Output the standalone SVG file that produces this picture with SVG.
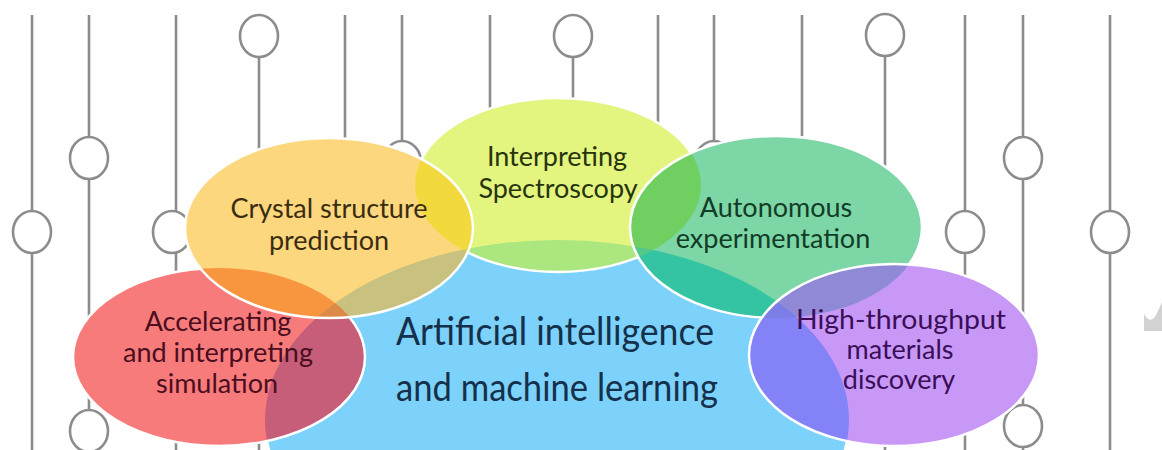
<svg xmlns="http://www.w3.org/2000/svg" width="1162" height="450" viewBox="0 0 1162 450">
<style>
.ln{stroke:#8C8C8C;stroke-width:2.6;fill:none}
.ck{stroke:#8C8C8C;stroke-width:2.6;fill:#FFFFFF}
.ol{fill:none;stroke:#FFFFFF;stroke-width:2.5}
.lb{font-family:Lato,"Open Sans","Noto Sans",sans-serif;font-size:27px;text-anchor:middle}
.mn{font-family:Lato,"Open Sans","Noto Sans",sans-serif;font-size:39px;font-weight:400;text-anchor:middle;fill:#14304A}
</style>
<defs>
<clipPath id="cB"><ellipse cx="557" cy="420" rx="292" ry="180"/></clipPath>
<clipPath id="cR"><ellipse cx="219" cy="357" rx="146" ry="89"/></clipPath>
<clipPath id="cS"><ellipse cx="558" cy="185" rx="143" ry="87"/></clipPath>
<clipPath id="cG"><ellipse cx="776" cy="227" rx="146" ry="91"/></clipPath>
</defs>
<rect width="1162" height="450" fill="#FFFFFF"/>
<g id="background">
<g class="ln">
<line x1="32" y1="15" x2="32" y2="450"/>
<line x1="89" y1="15" x2="89" y2="450"/>
<line x1="176" y1="15" x2="176" y2="450"/>
<line x1="259" y1="15" x2="259" y2="450"/>
<line x1="345" y1="15" x2="345" y2="450"/>
<line x1="402" y1="15" x2="402" y2="450"/>
<line x1="490" y1="15" x2="490" y2="450"/>
<line x1="573" y1="15" x2="573" y2="450"/>
<line x1="658" y1="15" x2="658" y2="450"/>
<line x1="714" y1="15" x2="714" y2="450"/>
<line x1="802" y1="15" x2="802" y2="450"/>
<line x1="885" y1="15" x2="885" y2="450"/>
<line x1="965" y1="15" x2="965" y2="450"/>
<line x1="1023" y1="15" x2="1023" y2="450"/>
<line x1="1110" y1="15" x2="1110" y2="450"/>
</g>
<g class="ck">
<ellipse cx="32" cy="232" rx="19" ry="21"/>
<ellipse cx="89" cy="158" rx="19" ry="21"/>
<ellipse cx="89" cy="431" rx="19" ry="21"/>
<ellipse cx="172" cy="232" rx="19" ry="21"/>
<ellipse cx="259" cy="36" rx="19" ry="21"/>
<ellipse cx="402" cy="162" rx="19" ry="21"/>
<ellipse cx="573" cy="36" rx="19" ry="21"/>
<ellipse cx="714" cy="162" rx="19" ry="21"/>
<ellipse cx="885" cy="35" rx="19" ry="21"/>
<ellipse cx="965" cy="232" rx="19" ry="21"/>
<ellipse cx="1023" cy="158" rx="19" ry="21"/>
<ellipse cx="1023" cy="426" rx="19" ry="21"/>
<ellipse cx="1110" cy="232" rx="19" ry="21"/>
</g>
<path d="M1144,314 Q1151,326 1157,313 L1162,302 L1162,331 L1144,331 Z" fill="#D2D2D2"/>
</g>
<g id="node-ai">
<ellipse cx="557" cy="420" rx="292" ry="180" fill="#7CD2FA" stroke="#FFFFFF" stroke-width="2.5"/>
</g>
<g id="node-simulation">
<ellipse cx="219" cy="357" rx="146" ry="89" fill="#F77B7B"/>
<ellipse cx="219" cy="357" rx="146" ry="89" fill="#C65D79" clip-path="url(#cB)"/>
<ellipse class="ol" cx="219" cy="357" rx="146" ry="89"/>
<g class="lb" fill="#4A0E1E">
<text x="218" y="331">Accelerating</text>
<text x="218" y="362">and interpreting</text>
<text x="217" y="393">simulation</text>
</g>
</g>
<g id="node-spectroscopy">
<ellipse cx="558" cy="185" rx="143" ry="87" fill="#E3F57F"/>
<ellipse cx="558" cy="185" rx="143" ry="87" fill="#ABE67F" clip-path="url(#cB)"/>
<ellipse class="ol" cx="558" cy="185" rx="143" ry="87"/>
<g class="lb" fill="#27340E">
<text x="557" y="166">Interpreting</text>
<text x="558" y="198">Spectroscopy</text>
</g>
</g>
<g id="node-crystal">
<ellipse cx="329" cy="228" rx="144" ry="90" fill="#FDD77D"/>
<ellipse cx="329" cy="228" rx="144" ry="90" fill="#C9C17F" clip-path="url(#cB)"/>
<ellipse cx="329" cy="228" rx="144" ry="90" fill="#F8953F" clip-path="url(#cR)"/>
<g clip-path="url(#cB)"><ellipse cx="329" cy="228" rx="144" ry="90" fill="#DC8A48" clip-path="url(#cR)"/></g>
<ellipse cx="329" cy="228" rx="144" ry="90" fill="#F2DA3E" clip-path="url(#cS)"/>
<g clip-path="url(#cB)"><ellipse cx="329" cy="228" rx="144" ry="90" fill="#CFD24A" clip-path="url(#cS)"/></g>
<ellipse class="ol" cx="329" cy="228" rx="144" ry="90"/>
<g class="lb" fill="#3A2C12">
<text x="329" y="218">Crystal structure</text>
<text x="329" y="250">prediction</text>
</g>
</g>
<g id="node-autonomous">
<ellipse cx="776" cy="227" rx="146" ry="91" fill="#7DD6A5"/>
<ellipse cx="776" cy="227" rx="146" ry="91" fill="#34C4A3" clip-path="url(#cB)"/>
<ellipse cx="776" cy="227" rx="146" ry="91" fill="#6FCF60" clip-path="url(#cS)"/>
<g clip-path="url(#cB)"><ellipse cx="776" cy="227" rx="146" ry="91" fill="#52C98A" clip-path="url(#cS)"/></g>
<ellipse class="ol" cx="776" cy="227" rx="146" ry="91"/>
<g class="lb" fill="#123C28">
<text x="776" y="217">Autonomous</text>
<text x="773" y="248">experimentation</text>
</g>
</g>
<g id="node-highthroughput">
<ellipse cx="894" cy="355" rx="145" ry="91" fill="#C898F7"/>
<ellipse cx="894" cy="355" rx="145" ry="91" fill="#8383F7" clip-path="url(#cB)"/>
<ellipse cx="894" cy="355" rx="145" ry="91" fill="#9089D6" clip-path="url(#cG)"/>
<g clip-path="url(#cB)"><ellipse cx="894" cy="355" rx="145" ry="91" fill="#7A7EE6" clip-path="url(#cG)"/></g>
<ellipse class="ol" cx="894" cy="355" rx="145" ry="91"/>
<g class="lb" fill="#3A0E58">
<text x="901" y="329" textLength="210" lengthAdjust="spacingAndGlyphs">High-throughput</text>
<text x="900" y="359">materials</text>
<text x="899" y="389">discovery</text>
</g>
</g>
<g id="label-ai">
<text class="mn" x="555" y="345" textLength="318" lengthAdjust="spacingAndGlyphs">Artificial intelligence</text>
<text class="mn" x="557" y="401" textLength="322" lengthAdjust="spacingAndGlyphs">and machine learning</text>
</g>
<g id="connectors"></g>
</svg>
